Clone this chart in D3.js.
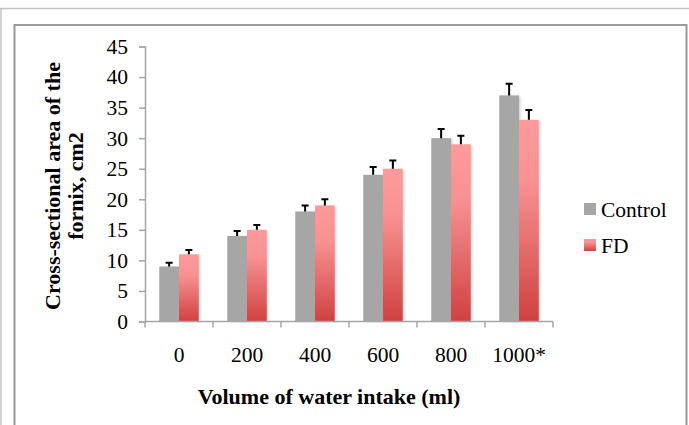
<!DOCTYPE html>
<html>
<head>
<meta charset="utf-8">
<script src="https://cdn.jsdelivr.net/npm/d3@7"></script>
<style>
  html, body { margin: 0; padding: 0; background: #fff; }
  svg { display: block; }
  text { font-family: "Liberation Serif", "Times New Roman", serif; fill: #000; }
</style>
</head>
<body>
<svg id="chart" width="689" height="425"></svg>
<script>
// ---- data ----
const categories = ["0", "200", "400", "600", "800", "1000*"];
const seriesNames = ["Control", "FD"];
const controlValues = [9, 14, 18, 24, 30, 37];
const fdValues = [11, 15, 19, 25, 29, 33];
const controlErrors = [0.6, 0.8, 1.0, 1.3, 1.5, 1.9];
const fdErrors = [0.7, 0.8, 1.0, 1.35, 1.4, 1.6];
const yTicks = [0, 5, 10, 15, 20, 25, 30, 35, 40, 45];
const yTitleLines = ["Cross-sectional area of the", "fornix, cm2"];
const xTitle = "Volume of water intake (ml)";

const seriesValues = [controlValues, fdValues];
const seriesErrors = [controlErrors, fdErrors];

const svg = d3.select("#chart");
const W = 689, H = 425;
const plot = { left: 145, right: 553, top: 46.5, bottom: 321.5 };

// defs
const defs = svg.append("defs");
const grad = defs.append("linearGradient").attr("id", "fdGrad")
  .attr("x1", 0).attr("y1", 0).attr("x2", 0).attr("y2", 1);
grad.append("stop").attr("offset", "0%").attr("stop-color", "#ff9a9a");
grad.append("stop").attr("offset", "30%").attr("stop-color", "#f89292");
grad.append("stop").attr("offset", "100%").attr("stop-color", "#d04141");
const blur = defs.append("filter").attr("id", "shadow")
  .attr("x", "-20%").attr("y", "-5%").attr("width", "150%").attr("height", "110%");
blur.append("feGaussianBlur").attr("stdDeviation", 1.2);

// outer frames
svg.append("line").attr("x1", 0).attr("x2", W).attr("y1", 8.5).attr("y2", 8.5)
  .attr("stroke", "#c4c4c4").attr("stroke-width", 1.5);
svg.append("line").attr("x1", 1).attr("x2", 1).attr("y1", 8).attr("y2", H)
  .attr("stroke", "#c4c4c4").attr("stroke-width", 1.5);
svg.append("path")
  .attr("d", `M14.5,${H} L14.5,25 L686.5,25 L686.5,${H}`)
  .attr("fill", "none").attr("stroke", "#9a9a9a").attr("stroke-width", 2);

// scales
const x0 = d3.scaleBand().domain(categories).range([plot.left, plot.right]).padding(0);
const x1 = d3.scaleBand().domain(seriesNames)
  .range([x0.bandwidth() * 0.21, x0.bandwidth() * 0.79]).padding(0);
const y = d3.scaleLinear().domain([0, 45]).range([plot.bottom, plot.top]);

// y axis
const yAxis = d3.axisLeft(y).tickValues(yTicks).tickSize(6).tickPadding(11).tickFormat(d3.format("d"));
const gy = svg.append("g").attr("transform", `translate(${plot.left},0)`).call(yAxis);
gy.attr("font-family", null);
gy.select(".domain").attr("stroke", "#a6a6a6").attr("stroke-width", 1.5);
gy.selectAll(".tick line").attr("stroke", "#a6a6a6").attr("stroke-width", 1.5);
gy.selectAll(".tick text").style("font-family", '"Liberation Serif", serif')
  .style("font-size", "21.5px").attr("fill", "#000");

// bars
const groups = svg.append("g").selectAll("g").data(categories).join("g")
  .attr("transform", d => `translate(${x0(d)},0)`);

const barData = (c, i) => seriesNames.map((s, k) => ({
  s, k, v: seriesValues[k][i], e: seriesErrors[k][i]
}));

groups.each(function(c, i) {
  const g = d3.select(this);
  const data = barData(c, i);
  g.selectAll("rect.sh").data(data).join("rect").attr("class", "sh")
    .attr("x", d => x1(d.s) + 1.5).attr("y", d => y(d.v) + 1)
    .attr("width", x1.bandwidth()).attr("height", d => y(0) - y(d.v) - 1)
    .attr("fill", "#000").attr("opacity", 0.18).attr("filter", "url(#shadow)");
  g.selectAll("rect.bar").data(data).join("rect").attr("class", "bar")
    .attr("x", d => x1(d.s)).attr("y", d => y(d.v))
    .attr("width", x1.bandwidth()).attr("height", d => y(0) - y(d.v))
    .attr("fill", d => d.k === 0 ? "#a6a6a6" : "url(#fdGrad)");
  g.selectAll("path.err").data(data).join("path").attr("class", "err")
    .attr("d", d => {
      const cx = x1(d.s) + x1.bandwidth() / 2;
      return `M${cx},${y(d.v)} L${cx},${y(d.v + d.e)} M${cx - 3.5},${y(d.v + d.e)} L${cx + 3.5},${y(d.v + d.e)}`;
    })
    .attr("stroke", "#000").attr("stroke-width", 2).attr("fill", "none");
});

// x axis
svg.append("line").attr("x1", plot.left).attr("x2", plot.right)
  .attr("y1", plot.bottom).attr("y2", plot.bottom)
  .attr("stroke", "#a6a6a6").attr("stroke-width", 1.5);
const boundaries = categories.map(c => x0(c)).concat([x0(categories[categories.length - 1]) + x0.bandwidth()]);
svg.append("g").selectAll("line").data(boundaries).join("line")
  .attr("x1", d => d).attr("x2", d => d)
  .attr("y1", plot.bottom).attr("y2", plot.bottom + 6)
  .attr("stroke", "#a6a6a6").attr("stroke-width", 1.5);
svg.append("g").selectAll("text").data(categories).join("text")
  .attr("x", d => x0(d) + x0.bandwidth() / 2).attr("y", 361.5)
  .attr("text-anchor", "middle").style("font-size", "21.5px").text(d => d);

// axis titles
svg.append("text").attr("x", 329).attr("y", 404).attr("text-anchor", "middle")
  .style("font-size", "22px").style("font-weight", "bold").text(xTitle);
const yt = svg.append("text").attr("transform", "translate(0,186) rotate(-90)")
  .attr("text-anchor", "middle").style("font-size", "22px").style("font-weight", "bold");
yt.selectAll("tspan").data(yTitleLines).join("tspan")
  .attr("x", 0).attr("y", (d, i) => 60 + i * 22.5).text(d => d);

// legend
const leg = svg.append("g").selectAll("g").data(seriesNames).join("g")
  .attr("transform", (d, i) => `translate(584,${203 + i * 36})`);
leg.append("rect").attr("width", 12).attr("height", 12)
  .attr("fill", (d, i) => i === 0 ? "#a6a6a6" : "url(#fdGrad)");
leg.append("text").attr("x", 17).attr("y", 13.5).style("font-size", "21.5px").text(d => d);
</script>
</body>
</html>
